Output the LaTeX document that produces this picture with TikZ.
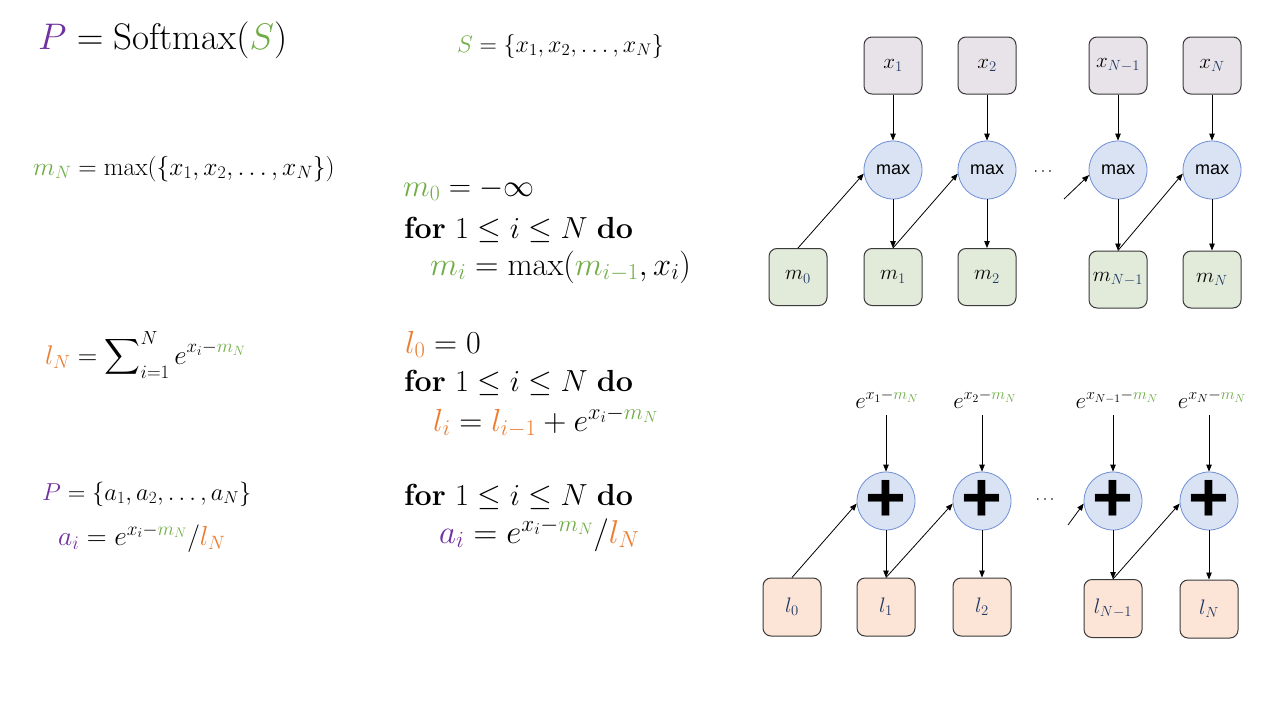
\RequirePackage{fix-cm}
\documentclass[tikz,border=0pt]{standalone}
\usepackage{exscale}
\usepackage{fontspec}
\newfontfamily\arialf{Liberation Sans}
\usetikzlibrary{arrows.meta}
\newcommand\myfs[1]{\fontsize{#1}{#1}\selectfont}
\definecolor{cpur}{HTML}{7030A0}
\definecolor{cgrn}{HTML}{70AD47}
\definecolor{corg}{HTML}{ED7D31}
\definecolor{cblu}{HTML}{203864}
\definecolor{xfill}{HTML}{E7E3E8}
\definecolor{mfill}{HTML}{E2EBDA}
\definecolor{cfill}{HTML}{DAE3F3}
\definecolor{cline}{HTML}{6F8FD8}
\definecolor{lfill}{HTML}{FCE4D6}
\definecolor{bline}{HTML}{3A3A3A}
\begin{document}
\begin{tikzpicture}[x=1pt,y=-1pt,
  box/.style={draw=bline, line width=1pt, rounded corners=8pt, minimum width=58pt, minimum height=57pt, inner sep=0pt, font=\myfs{21}},
  opc/.style={circle, draw=cline, line width=0.8pt, fill=cfill, minimum size=58pt, inner sep=0pt},
  arr/.style={-{Triangle[length=7pt,width=5.5pt]}, line width=0.8pt, black},
  txt/.style={anchor=base west, inner sep=0pt},
  elab/.style={inner sep=2pt, font=\myfs{23}},
  dotsn/.style={inner sep=0pt, font=\myfs{16}}]
\fill[white] (0,0) rectangle (1280,720);
\useasboundingbox (0,0) rectangle (1280,720);

% ---------- left text ----------
\node[txt] (t1) at (38,49) {\myfs{37}$\textcolor{cpur}{P}=\mathrm{Softmax}(\textcolor{cgrn}{S})$};
\node[txt] (t2) at (457,52) {\myfs{24}$\textcolor{cgrn}{S}=\{x_1,x_2,\ldots,x_N\}$};
\node[txt] (t3) at (33,175) {\myfs{25.5}$\textcolor{cgrn}{m_N}=\max(\{x_1,x_2,\ldots,x_N\})$};
\node[txt] (t4) at (403,196) {\myfs{31}$\textcolor{cgrn}{m_0}=-\infty$};
\node[txt] (t5) at (404,238) {\myfs{30.5}\textbf{for} $1\le i\le N$ \textbf{do}};
\node[txt] (t6) at (430,275) {\myfs{32.5}$\textcolor{cgrn}{m_i}=\max(\textcolor{cgrn}{m_{i-1}},x_i)$};
\node[txt] (t7) at (45,364) {\myfs{27}$\textcolor{corg}{l_N}=\displaystyle\sum\nolimits_{i=1}^{N}e^{x_i-\textcolor{cgrn}{m_N}}$};
\node[txt] (t8) at (405,353) {\myfs{32}$\textcolor{corg}{l_0}=0$};
\node[txt] (t9) at (404,391) {\myfs{30.5}\textbf{for} $1\le i\le N$ \textbf{do}};
\node[txt] (t10) at (433,431) {\myfs{32}$\textcolor{corg}{l_i}=\textcolor{corg}{l_{i-1}}+e^{x_i-\textcolor{cgrn}{m_N}}$};
\node[txt] (t11) at (42,500) {\myfs{24.5}$\textcolor{cpur}{P}=\{a_1,a_2,\ldots,a_N\}$};
\node[txt] (t12) at (58,545) {\myfs{27.5}$\textcolor{cpur}{a_i}=e^{x_i-\textcolor{cgrn}{m_N}}/\textcolor{corg}{l_N}$};
\node[txt] (t13) at (404,505) {\myfs{30.5}\textbf{for} $1\le i\le N$ \textbf{do}};
\node[txt] (t14) at (439,543) {\myfs{33}$\textcolor{cpur}{a_i}=e^{x_i-\textcolor{cgrn}{m_N}}/\textcolor{corg}{l_N}$};

% ---------- top diagram ----------
\node[box, fill=xfill] (x1) at (893,65.5) {$x_{\textcolor{cblu}{1}}$};
\node[box, fill=xfill] (x2) at (987,65.5) {$x_{\textcolor{cblu}{2}}$};
\node[box, fill=xfill] (xN1) at (1118,65.5) {$x_{\textcolor{cblu}{N-1}}$};
\node[box, fill=xfill] (xN) at (1212,65.5) {$x_{\textcolor{cblu}{N}}$};

\node[opc] (c1) at (893,170) {\arialf\myfs{18}max};
\node[opc] (c2) at (987,170) {\arialf\myfs{18}max};
\node[opc] (cN1) at (1118,170) {\arialf\myfs{18}max};
\node[opc] (cN) at (1212,170) {\arialf\myfs{18}max};

\node[box, fill=mfill] (m0) at (798,277) {$m_{\textcolor{cblu}{0}}$};
\node[box, fill=mfill] (m1) at (893,277) {$m_{\textcolor{cblu}{1}}$};
\node[box, fill=mfill] (m2) at (987,277) {$m_{\textcolor{cblu}{2}}$};
\node[box, fill=mfill] (mN1) at (1118,279.5) {$m_{\textcolor{cblu}{N-1}}$};
\node[box, fill=mfill] (mN) at (1212,279.5) {$m_{\textcolor{cblu}{N}}$};

\node[dotsn] (dots1) at (1043,172) {$\cdots$};
\coordinate (d1) at (1064,199);

\draw[arr] (x1) -- (c1);
\draw[arr] (x2) -- (c2);
\draw[arr] (xN1) -- (cN1);
\draw[arr] (xN) -- (cN);
\draw[arr] (c1) -- (m1);
\draw[arr] (c2) -- (m2);
\draw[arr] (cN1) -- (mN1);
\draw[arr] (cN) -- (mN);
\draw[arr] (m0.north) -- (c1.187);
\draw[arr] (m1.north) -- (c2.187);
\draw[arr] (d1) -- (cN1.190);
\draw[arr] (mN1.north) -- (cN.187);

% ---------- bottom diagram ----------
\node[elab, anchor=base] (e1) at (887,408) {$e^{x_1-\textcolor{cgrn}{m_N}}$};
\node[elab, anchor=base] (e2) at (985,408) {$e^{x_2-\textcolor{cgrn}{m_N}}$};
\node[elab, anchor=base] (eN1) at (1117,408) {$e^{x_{N-1}-\textcolor{cgrn}{m_N}}$};
\node[elab, anchor=base] (eN) at (1212,408) {$e^{x_N-\textcolor{cgrn}{m_N}}$};

\node[opc] (p1) at (886,501) {\arialf\bfseries\myfs{70}+};
\node[opc] (p2) at (982,501) {\arialf\bfseries\myfs{70}+};
\node[opc] (pN1) at (1113,501) {\arialf\bfseries\myfs{70}+};
\node[opc] (pN) at (1209,501) {\arialf\bfseries\myfs{70}+};

\node[box, fill=lfill, minimum height=58pt] (l0) at (792,607) {\color{cblu}$l_0$};
\node[box, fill=lfill, minimum height=58pt] (l1) at (886,607) {\color{cblu}$l_1$};
\node[box, fill=lfill, minimum height=58pt] (l2) at (982,607) {\color{cblu}$l_2$};
\node[box, fill=lfill, minimum height=58pt] (lN1) at (1113,608.5) {\color{cblu}$l_{N-1}$};
\node[box, fill=lfill, minimum height=58pt] (lN) at (1209,609) {\color{cblu}$l_N$};

\node[dotsn] (dots2) at (1045,500) {$\cdots$};
\coordinate (d2) at (1068,525);

\draw[arr, shorten <=5pt] (e1.south -| p1) -- (p1);
\draw[arr, shorten <=5pt] (e2.south -| p2) -- (p2);
\draw[arr, shorten <=5pt] (eN1.south -| pN1) -- (pN1);
\draw[arr, shorten <=5pt] (eN.south -| pN) -- (pN);
\draw[arr] (p1) -- (l1);
\draw[arr] (p2) -- (l2);
\draw[arr] (pN1) -- (lN1);
\draw[arr] (pN) -- (lN);
\draw[arr] (l0.north) -- (p1.185);
\draw[arr] (l1.north) -- (p2.185);
\draw[arr] (d2) -- (pN1.185);
\draw[arr] (lN1.north) -- (pN.185);
\end{tikzpicture}
\end{document}
